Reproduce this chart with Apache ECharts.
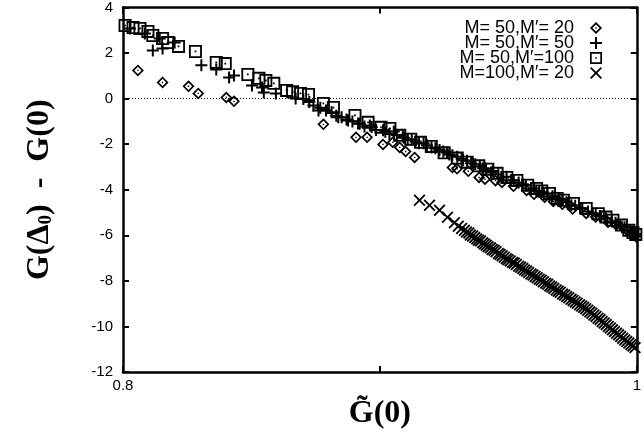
<!DOCTYPE html>
<html>
<head>
<meta charset="utf-8">
<style>
  html, body { margin: 0; padding: 0; background: #fff; }
  #chart { width: 644px; height: 436px; }
</style>
<script src="https://cdn.jsdelivr.net/npm/echarts@6/dist/echarts.min.js"></script>
</head>
<body>
<div id="chart"></div>
<script>
// Series values: [G~(0), G(Delta0) - G(0)]
const seriesNames = ['M= 50,M\u2032= 20', 'M= 50,M\u2032= 50', 'M= 50,M\u2032=100', 'M=100,M\u2032= 20'];

const m50m20 = [
  [0.8058, 1.24], [0.8154, 0.71], [0.8255, 0.54], [0.8293, 0.23], [0.8402, 0.05],
  [0.8432, -0.12], [0.8780, -1.13], [0.8907, -1.70], [0.8950, -1.70], [0.9012, -2.01],
  [0.9050, -1.92], [0.9077, -2.14], [0.9100, -2.32], [0.9135, -2.58], [0.9282, -3.02],
  [0.9300, -3.08], [0.9344, -3.19], [0.9386, -3.46], [0.9409, -3.54], [0.9450, -3.60],
  [0.9475, -3.68], [0.9520, -3.85], [0.9571, -4.03], [0.9600, -4.20], [0.9641, -4.33],
  [0.9675, -4.52], [0.9710, -4.64], [0.9750, -4.85], [0.9803, -5.04], [0.9840, -5.20],
  [0.9888, -5.43], [0.9920, -5.55], [0.9958, -5.74], [0.9980, -5.90]
];

const m50m50 = [
  [0.8027, 3.08], [0.8085, 2.86], [0.8116, 2.11], [0.8143, 2.64], [0.8154, 2.20],
  [0.8201, 2.46], [0.8305, 1.46], [0.8363, 1.28], [0.8413, 0.93], [0.8432, 1.02],
  [0.8502, 0.58], [0.8541, 0.49], [0.8548, 0.27], [0.8595, 0.23], [0.8672, 0.01],
  [0.8702, -0.02], [0.8725, -0.15], [0.8741, -0.30], [0.8761, -0.52], [0.8768, -0.40],
  [0.8790, -0.52], [0.8812, -0.60], [0.8830, -0.75], [0.8838, -0.82], [0.8851, -0.82],
  [0.8870, -0.92], [0.8876, -0.96], [0.8893, -1.00], [0.8915, -1.09], [0.8921, -1.10],
  [0.8940, -1.22], [0.8961, -1.18], [0.8968, -1.25], [0.8985, -1.38], [0.9012, -1.39],
  [0.9021, -1.45], [0.9037, -1.55], [0.9054, -1.44], [0.9066, -1.60], [0.9089, -1.66],
  [0.9093, -1.72], [0.9108, -1.80], [0.9124, -1.79], [0.9139, -1.88], [0.9152, -1.96],
  [0.9170, -1.96], [0.9183, -2.05], [0.9201, -2.14], [0.9216, -2.18], [0.9232, -2.26],
  [0.9247, -2.32], [0.9261, -2.36], [0.9270, -2.45], [0.9282, -2.49], [0.9301, -2.55],
  [0.9318, -2.64], [0.9324, -2.71], [0.9339, -2.73], [0.9355, -2.84], [0.9371, -2.88],
  [0.9389, -2.98], [0.9402, -3.06], [0.9413, -3.08], [0.9432, -3.24], [0.9440, -3.18],
  [0.9461, -3.33], [0.9479, -3.46], [0.9493, -3.43], [0.9510, -3.59], [0.9521, -3.58],
  [0.9540, -3.68], [0.9556, -3.76], [0.9568, -3.80], [0.9587, -3.98], [0.9601, -3.95],
  [0.9620, -4.05], [0.9633, -4.11], [0.9652, -4.18], [0.9672, -4.29], [0.9683, -4.35],
  [0.9699, -4.40], [0.9710, -4.46], [0.9726, -4.55], [0.9745, -4.68], [0.9760, -4.70],
  [0.9779, -4.80], [0.9788, -4.82], [0.9810, -4.95], [0.9826, -5.04], [0.9840, -5.05],
  [0.9856, -5.15], [0.9861, -5.17], [0.9880, -5.25], [0.9903, -5.39], [0.9917, -5.45],
  [0.9935, -5.55], [0.9942, -5.65], [0.9952, -5.65], [0.9973, -5.78], [0.9981, -5.85],
  [0.9993, -5.95], [0.9996, -6.04]
];

const m50m100 = [
  [0.8008, 3.21], [0.8039, 3.12], [0.8066, 3.08], [0.8097, 2.95], [0.8116, 2.77],
  [0.8154, 2.64], [0.8174, 2.46], [0.8216, 2.29], [0.8282, 2.07], [0.8363, 1.59],
  [0.8398, 1.54], [0.8486, 1.06], [0.8529, 0.89], [0.8556, 0.80], [0.8587, 0.67],
  [0.8637, 0.36], [0.8660, 0.30], [0.8691, 0.23], [0.8722, 0.18], [0.8780, -0.21],
  [0.8819, -0.39], [0.8903, -0.74], [0.8954, -1.04], [0.9004, -1.26], [0.9039, -1.31],
  [0.9077, -1.61], [0.9120, -1.78], [0.9158, -1.92], [0.9200, -2.10], [0.9250, -2.38],
  [0.9301, -2.61], [0.9340, -2.79], [0.9385, -2.95], [0.9420, -3.10], [0.9456, -3.28],
  [0.9494, -3.46], [0.9533, -3.59], [0.9575, -3.80], [0.9610, -3.94], [0.9630, -4.05],
  [0.9660, -4.16], [0.9690, -4.38], [0.9714, -4.46], [0.9753, -4.60], [0.9803, -4.82],
  [0.9850, -5.05], [0.9880, -5.20], [0.9907, -5.34], [0.9940, -5.55], [0.9969, -5.78],
  [0.9985, -5.88], [0.9996, -5.96]
];

const m100m20 = [
  [0.9154, -4.46], [0.9193, -4.68], [0.9232, -4.90], [0.9263, -5.21], [0.9290, -5.45],
  [0.9305, -5.60], [0.9318, -5.70], [0.9329, -5.78], [0.9337, -5.86], [0.9346, -5.90],
  [0.9352, -5.99], [0.9361, -6.03], [0.9369, -6.10], [0.9377, -6.16], [0.9384, -6.22],
  [0.9392, -6.25], [0.9400, -6.33], [0.9407, -6.38], [0.9414, -6.44], [0.9421, -6.50],
  [0.9430, -6.55], [0.9437, -6.62], [0.9445, -6.66], [0.9452, -6.72], [0.9461, -6.80],
  [0.9468, -6.84], [0.9476, -6.90], [0.9484, -6.96], [0.9492, -7.03], [0.9499, -7.07],
  [0.9507, -7.13], [0.9516, -7.19], [0.9523, -7.22], [0.9531, -7.28], [0.9540, -7.36],
  [0.9548, -7.40], [0.9556, -7.46], [0.9563, -7.52], [0.9571, -7.57], [0.9579, -7.63],
  [0.9588, -7.70], [0.9596, -7.74], [0.9604, -7.81], [0.9612, -7.86], [0.9620, -7.93],
  [0.9628, -7.97], [0.9636, -8.04], [0.9645, -8.10], [0.9653, -8.15], [0.9661, -8.22],
  [0.9669, -8.27], [0.9677, -8.33], [0.9686, -8.40], [0.9694, -8.45], [0.9702, -8.50],
  [0.9711, -8.58], [0.9719, -8.62], [0.9727, -8.69], [0.9735, -8.74], [0.9744, -8.81],
  [0.9752, -8.86], [0.9760, -8.93], [0.9768, -8.98], [0.9777, -9.05], [0.9785, -9.10],
  [0.9793, -9.16], [0.9801, -9.22], [0.9809, -9.29], [0.9817, -9.36], [0.9825, -9.42],
  [0.9833, -9.50], [0.9841, -9.56], [0.9849, -9.64], [0.9857, -9.70], [0.9865, -9.78],
  [0.9873, -9.85], [0.9881, -9.92], [0.9889, -10.00], [0.9897, -10.07], [0.9905, -10.15],
  [0.9913, -10.22], [0.9921, -10.30], [0.9929, -10.37], [0.9937, -10.44], [0.9945, -10.52],
  [0.9953, -10.59], [0.9961, -10.66], [0.9969, -10.73], [0.9977, -10.80], [0.9985, -10.86],
  [0.9993, -10.93]
];

const yTicks = [4, 2, 0, -2, -4, -6, -8, -10, -12];
const xTickLabels = { '0.8': '0.8', '1': '1' };

// Outline symbols with a centre dot, drawn as paths (inner contour wound the other way)
const SYM_DIAMOND = 'path://M6,0L12,6L6,12L0,6Z M6,2.4L2.4,6L6,9.6L9.6,6Z M5.3,5.3H6.7V6.7H5.3Z';
const SYM_SQUARE = 'path://M0,0H12V12H0Z M1.7,1.7V10.3H10.3V1.7Z M5.2,5.2H6.8V6.8H5.2Z';
const SYM_PLUS = 'path://M5,0H7V5H12V7H7V12H5V7H0V5H5Z';
const SYM_CROSS = 'path://M0,1.3L1.3,0L6,4.7L10.7,0L12,1.3L7.3,6L12,10.7L10.7,12L6,7.3L1.3,12L0,10.7L4.7,6Z';

const chart = echarts.init(document.getElementById('chart'), null, { renderer: 'canvas' });

const axisFont = { fontFamily: 'Liberation Sans, Arial, sans-serif', fontSize: 15, color: '#000' };
const frameLine = { show: true, onZero: false, lineStyle: { color: '#000', width: 2.5 } };
const innerTick = { show: true, inside: true, length: 6, lineStyle: { color: '#000', width: 2 } };
const serifBold = 'Liberation Serif, DejaVu Serif, serif';

function scatter(name, data, symbol, size) {
  return {
    name: name,
    type: 'scatter',
    data: data,
    symbol: symbol,
    symbolSize: size,
    symbolKeepAspect: true,
    itemStyle: { color: '#000', opacity: 1 },
    emphasis: { disabled: true },
    silent: true,
    z: 3
  };
}

const option = {
  animation: false,
  backgroundColor: '#fff',
  grid: { left: 123, right: 3, top: 7, bottom: 64 },
  legend: {
    orient: 'vertical',
    right: 37,
    top: 14,
    align: 'right',
    itemGap: -3,
    itemWidth: 12,
    itemHeight: 12,
    selectedMode: false,
    textStyle: {
      fontFamily: 'Liberation Sans, Arial, sans-serif',
      fontSize: 18,
      color: '#000',
      padding: [0, 11, 0, 0]
    },
    data: seriesNames
  },
  xAxis: [{
    type: 'value',
    min: 0.8,
    max: 1,
    interval: 0.1,
    axisLine: frameLine,
    axisTick: innerTick,
    splitLine: { show: false },
    axisLabel: Object.assign({
      margin: 6,
      formatter: function (v) {
        const k = String(Math.round(v * 100) / 100);
        return xTickLabels[k] || '';
      }
    }, axisFont),
    name: 'G\u0303(0)',
    nameLocation: 'middle',
    nameGap: 26,
    nameTextStyle: { fontFamily: serifBold, fontWeight: 'bold', fontSize: 32, color: '#000' }
  }, {
    type: 'value',
    position: 'top',
    min: 0.8,
    max: 1,
    interval: 0.1,
    axisLine: frameLine,
    axisTick: innerTick,
    axisLabel: { show: false },
    splitLine: { show: false }
  }],
  yAxis: [{
    type: 'value',
    min: -12,
    max: 4,
    interval: 2,
    axisLine: frameLine,
    axisTick: innerTick,
    splitLine: { show: false },
    axisLabel: Object.assign({
      margin: 10,
      formatter: function (v) { return yTicks.indexOf(v) >= 0 ? String(v) : ''; }
    }, axisFont),
    name: '{a|G(\u0394}{s|0}{a|)  -  G(0)}',
    nameLocation: 'middle',
    nameGap: 67,
    nameTextStyle: {
      rich: {
        a: { fontFamily: serifBold, fontWeight: 'bold', fontSize: 32, color: '#000' },
        s: { fontFamily: serifBold, fontWeight: 'bold', fontSize: 19, color: '#000', padding: [14, 0, 0, 0] }
      }
    }
  }, {
    type: 'value',
    position: 'right',
    min: -12,
    max: 4,
    interval: 2,
    axisLine: frameLine,
    axisTick: innerTick,
    axisLabel: { show: false },
    splitLine: { show: false }
  }],
  series: [
    Object.assign(scatter(seriesNames[0], m50m20, SYM_DIAMOND, 12), {
      markLine: {
        silent: true,
        symbol: 'none',
        label: { show: false },
        lineStyle: { color: '#000', type: [1, 2], width: 1 },
        data: [{ yAxis: 0 }],
        z: 1
      }
    }),
    scatter(seriesNames[1], m50m50, SYM_PLUS, 12),
    scatter(seriesNames[2], m50m100, SYM_SQUARE, 13),
    scatter(seriesNames[3], m100m20, SYM_CROSS, 12)
  ]
};

chart.setOption(option);
</script>
</body>
</html>
